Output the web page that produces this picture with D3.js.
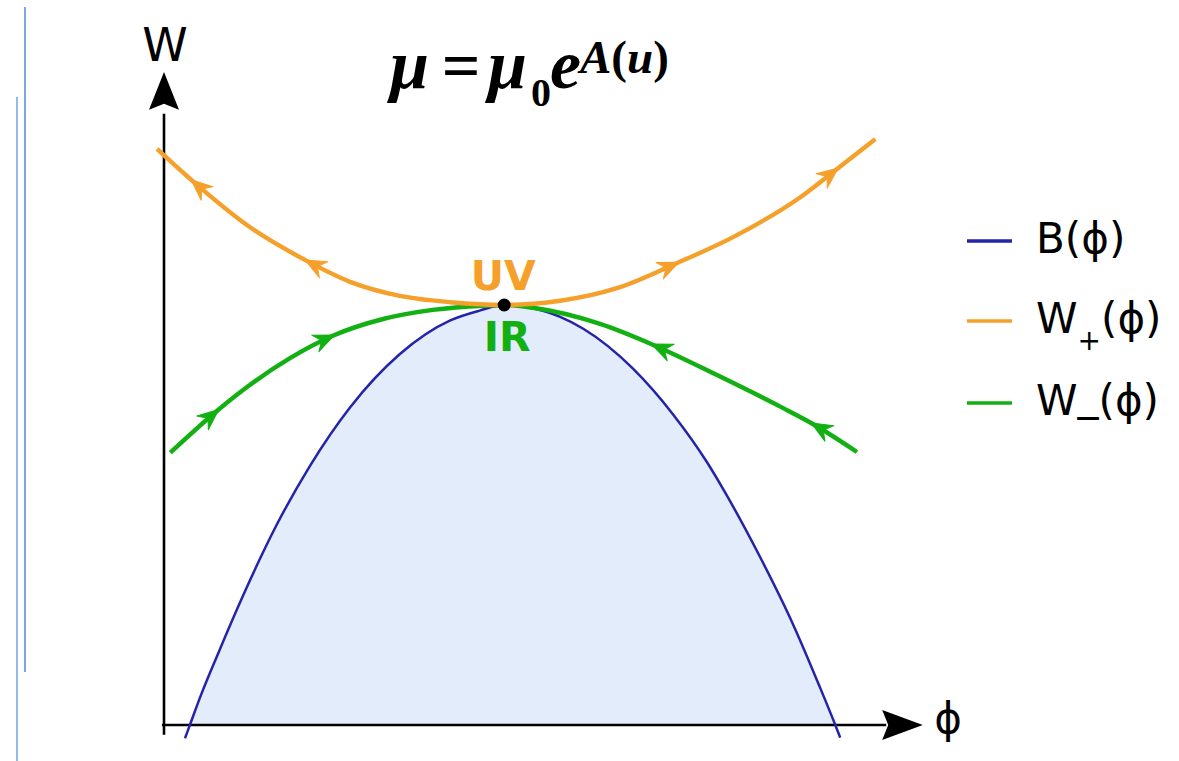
<!DOCTYPE html>
<html>
<head>
<meta charset="utf-8">
<script src="https://cdn.jsdelivr.net/npm/d3@7"></script>
<style>
  html, body { margin: 0; padding: 0; background: #fff; }
  svg { display: block; }
</style>
</head>
<body>
<svg id="chart" width="1179" height="761"></svg>
<script>
// Boundary function B(phi): an inverted bowl touching the fixed point
const bPhi = [0.30, 0.37, 0.51, 0.76, 1.13, 1.61, 2.09, 2.66, 3.37, 4.09, 4.51, 4.86, 5.23, 5.66, 5.99, 6.70, 7.27, 7.76, 8.04, 8.51, 8.99, 9.37, 9.59, 9.66];
const bW   = [-0.19, 0.00, 0.38, 0.99, 1.85, 2.86, 3.71, 4.54, 5.30, 5.78, 5.92, 6.00, 5.96, 5.83, 5.66, 5.09, 4.44, 3.75, 3.28, 2.41, 1.43, 0.54, 0.00, -0.18];

// Upper branch W+(phi), flowing away from the UV point
const wPlusPhi = [-0.10, 0.41, 1.23, 2.04, 2.66, 3.37, 4.09, 4.86, 5.66, 6.47, 7.33, 8.13, 9.09, 9.61, 10.16];
const wPlusW   = [8.23, 7.77, 7.11, 6.63, 6.33, 6.13, 6.04, 6.00, 6.06, 6.24, 6.60, 6.97, 7.54, 7.94, 8.37];

// Lower branch W-(phi), flowing into the IR point
const wMinusPhi = [0.09, 0.76, 1.23, 1.80, 2.41, 3.13, 3.84, 4.56, 4.86, 5.27, 6.23, 6.99, 7.90, 8.84, 9.27, 9.90];
const wMinusW   = [3.89, 4.49, 4.86, 5.24, 5.56, 5.80, 5.93, 5.99, 6.00, 5.96, 5.73, 5.43, 5.00, 4.53, 4.30, 3.90];

// Flow arrows: phi position on the curve and direction (+1 towards larger phi)
const wPlusArrowPhi = [0.41, 2.04, 7.33, 9.61];
const wPlusArrowDir = [-1, -1, 1, 1];
const wMinusArrowPhi = [0.76, 2.41, 6.99, 9.27];
const wMinusArrowDir = [1, 1, -1, -1];

// Fixed point where all three curves meet
const fixedPoint = [4.86, 6.00];

const legendLabels = ["B", "W+", "W_"];
const colors = { b: "#2424a8", plus: "#f6a02c", minus: "#12b012", fill: "#e3ecfa" };

const svg = d3.select("#chart");
const x = d3.scaleLinear().domain([0, 10]).range([164, 864]);
const y = d3.scaleLinear().domain([0, 10]).range([725, 25]);

// page rules on the left margin
svg.append("line").attr("x1", 25).attr("x2", 25).attr("y1", 7).attr("y2", 672)
  .attr("stroke", "#7ea9df").attr("stroke-width", 2);
svg.append("line").attr("x1", 17).attr("x2", 17).attr("y1", 97).attr("y2", 761)
  .attr("stroke", "#7ea9df").attr("stroke-width", 1.6);

const zip = (a, b) => a.map((v, i) => ({ phi: v, w: b[i] }));
const bData = zip(bPhi, bW);
const plusData = zip(wPlusPhi, wPlusW);
const minusData = zip(wMinusPhi, wMinusW);

// shaded region under B, clipped to the positive half-plane
svg.append("clipPath").attr("id", "upper")
  .append("rect").attr("x", 0).attr("y", 0).attr("width", 1179).attr("height", y(0));

const area = d3.area().curve(d3.curveMonotoneX)
  .x(d => x(d.phi)).y0(y(0)).y1(d => y(d.w));
svg.append("path").datum(bData).attr("d", area)
  .attr("fill", colors.fill).attr("clip-path", "url(#upper)");

// axes with arrowheads
const axisXMax = 10.84, axisXHead = 10.26, axisYMax = 9.33, axisYHead = 8.79;
svg.append("line").attr("x1", x(-0.03)).attr("x2", x(axisXHead) + 4)
  .attr("y1", y(0)).attr("y2", y(0)).attr("stroke", "#000").attr("stroke-width", 2.6);
svg.append("line").attr("x1", x(0)).attr("x2", x(0))
  .attr("y1", y(-0.14)).attr("y2", y(axisYHead) + 4).attr("stroke", "#000").attr("stroke-width", 2.6);

const xt = x(axisXMax), xb = x(axisXHead), y0p = y(0);
svg.append("path")
  .attr("d", `M${xt},${y0p} L${xb},${y0p - 15} L${xb + 6},${y0p} L${xb},${y0p + 15} Z`)
  .attr("fill", "#000");
const yt = y(axisYMax), yb = y(axisYHead), x0p = x(0);
svg.append("path")
  .attr("d", `M${x0p},${yt} L${x0p - 15},${yb} L${x0p},${yb - 6} L${x0p + 15},${yb} Z`)
  .attr("fill", "#000");

const line = d3.line().curve(d3.curveMonotoneX).x(d => x(d.phi)).y(d => y(d.w));

// B(phi)
svg.append("path").datum(bData).attr("d", line)
  .attr("fill", "none").attr("stroke", colors.b).attr("stroke-width", 2.5);

// flow curves with direction arrows
function flowCurve(data, color, arrowPhi, arrowDir) {
  const p = svg.append("path").datum(data).attr("d", line)
    .attr("fill", "none").attr("stroke", color).attr("stroke-width", 4.4)
    .attr("stroke-linecap", "butt");
  const node = p.node();
  const total = node.getTotalLength();
  arrowPhi.forEach((ph, i) => {
    const target = x(ph);
    let lo = 0, hi = total;
    for (let k = 0; k < 40; k++) {
      const mid = (lo + hi) / 2;
      if (node.getPointAtLength(mid).x < target) lo = mid; else hi = mid;
    }
    const l = (lo + hi) / 2;
    const pt = node.getPointAtLength(l);
    const a = node.getPointAtLength(Math.max(0, l - 2));
    const b = node.getPointAtLength(Math.min(total, l + 2));
    let ang = Math.atan2(b.y - a.y, b.x - a.x) * 180 / Math.PI;
    if (arrowDir[i] < 0) ang += 180;
    svg.append("path")
      .attr("d", "M2,0 L-19,-9 L-12,0 L-19,9 Z")
      .attr("fill", color)
      .attr("stroke", color).attr("stroke-width", 1).attr("stroke-linejoin", "round")
      .attr("transform", `translate(${pt.x},${pt.y}) rotate(${ang})`);
  });
}
flowCurve(minusData, colors.minus, wMinusArrowPhi, wMinusArrowDir);
flowCurve(plusData, colors.plus, wPlusArrowPhi, wPlusArrowDir);

// fixed point
svg.append("circle").attr("cx", x(fixedPoint[0])).attr("cy", y(fixedPoint[1])).attr("r", 6.5).attr("fill", "#000");

svg.append("text").attr("x", x(fixedPoint[0]) - 1).attr("y", y(fixedPoint[1]) - 15)
  .attr("text-anchor", "middle").attr("font-family", "DejaVu Sans").attr("font-weight", "bold")
  .attr("font-size", 41).attr("fill", colors.plus).text("UV");
svg.append("text").attr("x", x(fixedPoint[0]) + 3).attr("y", y(fixedPoint[1]) + 46)
  .attr("text-anchor", "middle").attr("font-family", "DejaVu Sans").attr("font-weight", "bold")
  .attr("font-size", 41).attr("fill", colors.minus).text("IR");

// axis labels
svg.append("text").attr("x", x(0) + 1).attr("y", 61).attr("text-anchor", "middle")
  .attr("font-family", "DejaVu Sans").attr("font-size", 46).attr("fill", "#000").text("W");
svg.append("text").attr("x", 948).attr("y", 733).attr("text-anchor", "middle")
  .attr("font-family", "DejaVu Sans").attr("font-size", 42).attr("fill", "#000").text("ϕ");

// title formula
const title = svg.append("g").attr("font-family", "Liberation Serif").attr("font-weight", "bold").attr("fill", "#000");
title.append("text").attr("x", 390).attr("y", 88).attr("font-size", 70).attr("font-style", "italic").text("μ");
title.append("text").attr("x", 461).attr("y", 88).attr("font-size", 68).attr("text-anchor", "middle").text("=");
title.append("text").attr("x", 488).attr("y", 88).attr("font-size", 70).attr("font-style", "italic").text("μ");
title.append("text").attr("x", 531).attr("y", 106).attr("font-size", 40).text("0");
title.append("text").attr("x", 550).attr("y", 88).attr("font-size", 70).attr("font-style", "italic").text("e");
const sup = title.append("text").attr("x", 580).attr("y", 73).attr("font-size", 47);
sup.append("tspan").attr("font-style", "italic").text("A");
sup.append("tspan").text("(");
sup.append("tspan").attr("font-style", "italic").text("u");
sup.append("tspan").text(")");

// legend
const legendY = [241, 321, 403];
const legendColors = [colors.b, colors.plus, colors.minus];
legendLabels.forEach((lab, i) => {
  svg.append("line").attr("x1", 967).attr("x2", 1012).attr("y1", legendY[i]).attr("y2", legendY[i])
    .attr("stroke", legendColors[i]).attr("stroke-width", 3.6);
  const t = svg.append("text").attr("x", 1036).attr("y", legendY[i] + 12)
    .attr("font-family", "DejaVu Sans").attr("font-size", 42).attr("fill", "#000");
  if (lab === "W+") {
    t.append("tspan").text("W");
    t.append("tspan").attr("font-size", 28).attr("dy", 17).text("+");
    t.append("tspan").attr("dy", -17).text("(ϕ)");
  } else if (lab === "W_") {
    t.append("tspan").text("W");
    t.append("tspan").attr("dy", -5).text("_");
    t.append("tspan").attr("dy", 5).text("(ϕ)");
  } else {
    t.text(lab + "(ϕ)");
  }
});
</script>
</body>
</html>
